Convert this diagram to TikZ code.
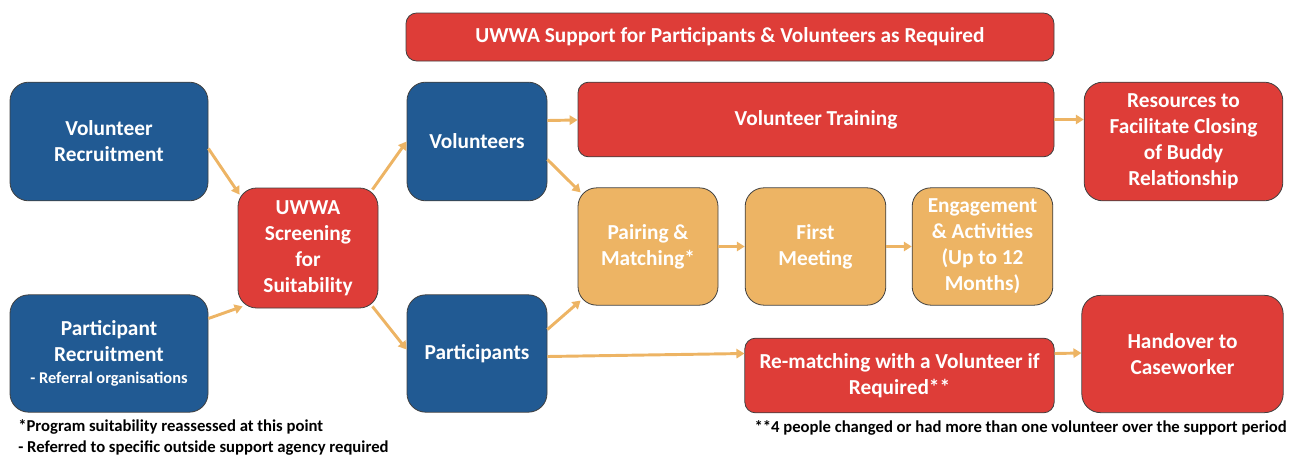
\documentclass[tikz,border=0pt]{standalone}
\usepackage{fontspec}
\setmainfont{Carlito}
\usetikzlibrary{arrows.meta, positioning, calc}

\definecolor{uwblue}{HTML}{215A93}
\definecolor{uwred}{HTML}{DE3D38}
\definecolor{uworange}{HTML}{EDB464}

\tikzset{
    box/.style={rectangle, rounded corners=14pt, draw=black!75, line width=0.6pt, text=white, align=center, inner sep=2pt, font=\bfseries\fontsize{16}{19.5}\selectfont},
    bluebox/.style={box, fill=uwblue},
    redbox/.style={box, fill=uwred},
    orangebox/.style={box, fill=uworange},
    widebox/.style={rounded corners=8pt},
    note/.style={inner sep=0pt, font=\bfseries\fontsize{12.5}{15}\selectfont},
    flow/.style={draw=uworange, line width=2.2pt, -{Triangle[length=6pt, width=7pt]}}
}

\begin{document}
\begin{tikzpicture}[x=0.75pt, y=-0.75pt]
        \useasboundingbox (0,0) rectangle (1297,457);

        % top banner
        \node (Support) at (730,37) [redbox, widebox, minimum width=486pt, minimum height=36pt]{UWWA Support for Participants \& Volunteers as Required};

        % recruitment and screening
        \node (VolRecruit) at (109,141.5) [bluebox, minimum width=148.5pt, minimum height=89pt]{Volunteer\\Recruitment};
        \node (PartRecruit) at (109,353.5) [bluebox, minimum width=148.5pt, minimum height=88pt]{Participant\\Recruitment\\[-3pt]{\fontsize{12.3}{14}\selectfont - Referral organisations}};
        \node (Screening) at (308,248) [redbox, minimum width=105pt, minimum height=90pt]{UWWA\\Screening\\for\\Suitability};

        \node (Volunteers) at (477,141.5) [bluebox, minimum width=105pt, minimum height=89pt]{Volunteers};
        \node (Participants) at (477,353.5) [bluebox, minimum width=105pt, minimum height=88pt]{Participants};

        % buddy pathway
        \node (Training) at (816,119.5) [redbox, widebox, minimum width=357pt, minimum height=56pt]{Volunteer Training};
        \node (Pairing) at (648,246.5) [orangebox, minimum width=105pt, minimum height=88pt]{Pairing \&\\Matching*};
        \node (FirstMeeting) at (815.5,246.5) [orangebox, minimum width=105.5pt, minimum height=88pt]{First\\Meeting};
        \node (Engagement) at (982.5,246.5) [orangebox, minimum width=105.5pt, minimum height=88pt]{Engagement\\\& Activities\\(Up to 12\\Months)};
        \node (Resources) at (1183.5,141.5) [redbox, minimum width=149pt, minimum height=89pt]{Resources to\\Facilitate Closing\\of Buddy\\Relationship};
        \node (Rematch) at (899.5,375.5) [redbox, widebox, minimum width=232pt, minimum height=56pt]{Re-matching with a Volunteer if\\Required**};
        \node (Handover) at (1182.5,354) [redbox, minimum width=151pt, minimum height=88pt]{Handover to\\Caseworker};

        % footnotes
        \node (NoteA) at (18,427) [note, anchor=west]{*Program suitability reassessed at this point};
        \node (NoteB) at (18,448) [note, anchor=west]{- Referred to specific outside support agency required};
        \node (NoteC) at (1287,428) [note, anchor=east]{**4 people changed or had more than one volunteer over the support period};

        \draw[flow] (VolRecruit.east) ++(0,7) -- ($(Screening.north west)+(2,7)$);
        \draw[flow] ($(PartRecruit.east)+(0,-35)$) -- ($(Screening.south west)+(5,-2)$);
        \draw[flow] ($(Screening.north east)+(-6,2)$) -- ($(Volunteers.west)+(0,0)$);
        \draw[flow] ($(Screening.south east)+(-6,-2)$) -- ($(Participants.west)+(0,-4)$);
        \draw[flow] ($(Volunteers.east)+(0,-21)$) -- (Training.west |- 0,120);
        \draw[flow] ($(Volunteers.east)+(0,18)$) -- ($(Pairing.north west)+(3,5)$);
        \draw[flow] ($(Participants.east)+(0,-24)$) -- ($(Pairing.south west)+(3,-5)$);
        \draw[flow] ($(Participants.east)+(0,3)$) -- ($(Rematch.west)+(0,-22)$);
        \draw[flow] (Pairing) -- (FirstMeeting);
        \draw[flow] (FirstMeeting) -- (Engagement);
        \draw[flow] (Training) -- (Training.east -| Resources.west);
        \draw[flow] ($(Rematch.east)+(0,-22)$) -- (Handover.west |- 0,353);
\end{tikzpicture}
\end{document}
